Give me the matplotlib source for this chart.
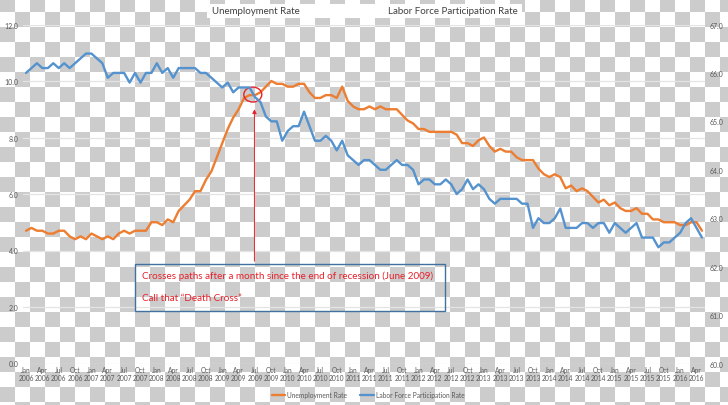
import matplotlib
matplotlib.use('Agg')
import matplotlib.pyplot as plt
import numpy as np
from matplotlib.patches import Rectangle, Ellipse

plt.rcParams['font.family'] = ['Lato', 'DejaVu Sans']

# monthly data, Jan 2006 .. May 2016
unemployment = [
    4.7, 4.8, 4.7, 4.7, 4.6, 4.6, 4.7, 4.7, 4.5, 4.4, 4.5, 4.4,   # 2006
    4.6, 4.5, 4.4, 4.5, 4.4, 4.6, 4.7, 4.6, 4.7, 4.7, 4.7, 5.0,   # 2007
    5.0, 4.9, 5.1, 5.0, 5.4, 5.6, 5.8, 6.1, 6.1, 6.5, 6.8, 7.3,   # 2008
    7.8, 8.3, 8.7, 9.0, 9.4, 9.5, 9.5, 9.6, 9.8, 10.0, 9.9, 9.9,  # 2009
    9.8, 9.8, 9.9, 9.9, 9.6, 9.4, 9.4, 9.5, 9.5, 9.4, 9.8, 9.3,   # 2010
    9.1, 9.0, 9.0, 9.1, 9.0, 9.1, 9.0, 9.0, 9.0, 8.8, 8.6, 8.5,   # 2011
    8.3, 8.3, 8.2, 8.2, 8.2, 8.2, 8.2, 8.1, 7.8, 7.8, 7.7, 7.9,   # 2012
    8.0, 7.7, 7.5, 7.6, 7.5, 7.5, 7.3, 7.2, 7.2, 7.2, 6.9, 6.7,   # 2013
    6.6, 6.7, 6.6, 6.2, 6.3, 6.1, 6.2, 6.1, 5.9, 5.7, 5.8, 5.6,   # 2014
    5.7, 5.5, 5.4, 5.4, 5.5, 5.3, 5.3, 5.1, 5.1, 5.0, 5.0, 5.0,   # 2015
    4.9, 4.9, 5.0, 5.0, 4.7,                                      # 2016
]
participation = [
    66.0, 66.1, 66.2, 66.1, 66.1, 66.2, 66.1, 66.2, 66.1, 66.2, 66.3, 66.4,
    66.4, 66.3, 66.2, 65.9, 66.0, 66.0, 66.0, 65.8, 66.0, 65.8, 66.0, 66.0,
    66.2, 66.0, 66.1, 65.9, 66.1, 66.1, 66.1, 66.1, 66.0, 66.0, 65.9, 65.8,
    65.7, 65.8, 65.6, 65.7, 65.7, 65.7, 65.5, 65.4, 65.1, 65.0, 65.0, 64.6,
    64.8, 64.9, 64.9, 65.2, 64.9, 64.6, 64.6, 64.7, 64.6, 64.4, 64.6, 64.3,
    64.2, 64.1, 64.2, 64.2, 64.1, 64.0, 64.0, 64.1, 64.2, 64.1, 64.1, 64.0,
    63.7, 63.8, 63.8, 63.7, 63.7, 63.8, 63.7, 63.5, 63.6, 63.8, 63.6, 63.7,
    63.6, 63.4, 63.3, 63.4, 63.4, 63.4, 63.4, 63.3, 63.3, 62.8, 63.0, 62.9,
    62.9, 63.0, 63.2, 62.8, 62.8, 62.8, 62.9, 62.9, 62.8, 62.9, 62.9, 62.7,
    62.9, 62.8, 62.7, 62.8, 62.9, 62.6, 62.6, 62.6, 62.4, 62.5, 62.5, 62.6,
    62.7, 62.9, 63.0, 62.8, 62.6,
]
quarter_names = ['Jan', 'Apr', 'Jul', 'Oct']
first_year = 2006

W, H = 728, 406
fig = plt.figure(figsize=(W / 100, H / 100), dpi=100)

# transparent-png style checkerboard behind everything
yy, xx = np.mgrid[0:H, 0:W]
checker = np.ones((H, W, 3))
checker[(((yy + 2) // 15 + xx // 15) % 2) == 0] = 0.8
fig.figimage(checker, xo=0, yo=0, origin='upper', zorder=-10)

# white band behind the two titles
fig.patches.append(Rectangle((207 / W, 1 - 19 / H), 315 / W, 14 / H,
                             transform=fig.transFigure, facecolor='white',
                             edgecolor='none', zorder=-5))

ax = fig.add_axes([23.3 / W, 41.5 / H, 681.4 / W, 339 / H])
ax.patch.set_alpha(0)
ax2 = ax.twinx()
ax2.patch.set_alpha(0)

months = np.arange(len(unemployment))
l1, = ax.plot(months, unemployment, color='#ED7D31', lw=1.7, solid_capstyle='round')
l2, = ax2.plot(months, participation, color='#5593CF', lw=1.7, solid_capstyle='round')

ax.set_xlim(-0.5, len(months) - 0.5)
ax.set_ylim(0, 12)
ax2.set_ylim(60, 67)
ax.set_yticks(np.arange(0, 13, 2))
ax.set_yticklabels([f'{v:.1f}' for v in np.arange(0, 13, 2)])
ax2.set_yticks(np.arange(60, 68, 1))
ax2.set_yticklabels([f'{v:.1f}' for v in np.arange(60, 68, 1)])
ax.grid(axis='y', color='#e4e4e4', lw=0.9)
ax.set_axisbelow(True)

tick_pos = months[::3]
tick_lab = [f'{quarter_names[(m // 3) % 4]}\n{first_year + m // 12}' for m in tick_pos]
ax.set_xticks(tick_pos)
ax.set_xticklabels(tick_lab, fontsize=4.8, color='#595959', linespacing=1.3)

for a in (ax, ax2):
    for s in a.spines.values():
        s.set_visible(False)
ax.tick_params(axis='x', length=0, pad=1.5)
ax.tick_params(axis='y', length=0, pad=3.5, labelsize=5, labelcolor='#595959')
ax2.tick_params(axis='y', length=0, pad=3.5, labelsize=5, labelcolor='#595959')

fig.text(212 / W, 1 - 11 / H, 'Unemployment Rate', ha='left', va='center',
         fontsize=7, color='#404040')
fig.text(388 / W, 1 - 11 / H, 'Labor Force Participation Rate', ha='left', va='center',
         fontsize=7, color='#404040')

fig.legend(handles=[l1, l2], labels=['Unemployment Rate', 'Labor Force Participation Rate'],
           loc='center', bbox_to_anchor=(368 / W, 10 / H), ncol=2, frameon=False,
           fontsize=4.8, handlelength=2.0, handletextpad=0.3, columnspacing=2.0,
           labelcolor='#595959')

# annotation: red circle, arrow and note box
red = '#e8202a'
ax2.add_patch(Ellipse((41.6, 9.52), 3.3, 0.53, transform=ax.transData,
                      facecolor='none', edgecolor=red, lw=1))
ax2.annotate('', xy=(41.9, 9.1), xytext=(41.9, 3.52),
             xycoords=ax.transData, textcoords=ax.transData,
             arrowprops=dict(arrowstyle='-|>', color=red, lw=0.7, mutation_scale=6))
ax2.add_patch(Rectangle((20.0, 1.86), 56.9, 1.66, transform=ax.transData,
                        facecolor='none', edgecolor='#41719C', lw=1))
ax2.text(21.2, 3.13, 'Crosses paths after a month since the end of recession (June 2009)',
         transform=ax.transData, color=red, fontsize=7.1, va='center', ha='left')
ax2.text(21.2, 2.32, 'Call that \u201cDeath Cross\u201d',
         transform=ax.transData, color=red, fontsize=7.1, va='center', ha='left')

fig.savefig('out.png', dpi=100)
